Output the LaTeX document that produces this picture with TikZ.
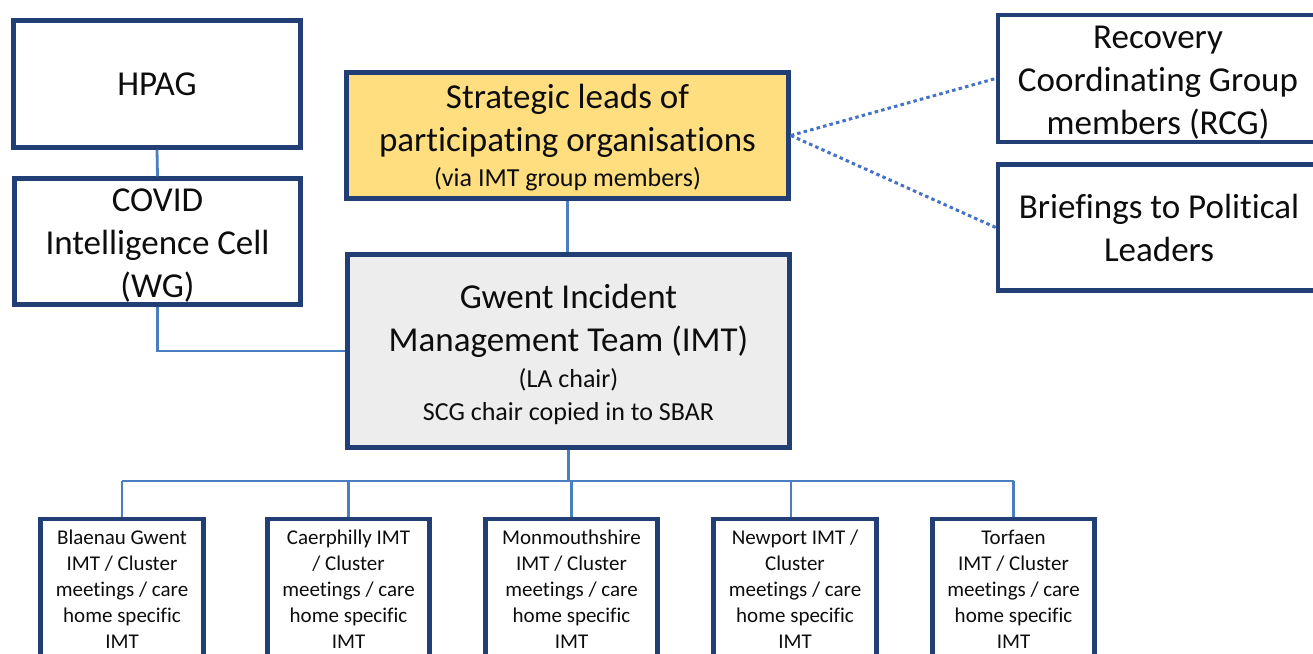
\documentclass[tikz,border=0pt]{standalone}
\usepackage{fontspec}
\setmainfont{Carlito}[RawFeature={-liga;-clig;-dlig}]
\definecolor{boxblue}{RGB}{33,63,116}
\definecolor{linkblue}{RGB}{74,126,193}
\definecolor{dotblue}{RGB}{68,114,196}
\definecolor{goldfill}{RGB}{255,222,128}
\definecolor{greyfill}{RGB}{237,237,237}
\definecolor{ink}{RGB}{13,13,13}
\begin{document}
\begin{tikzpicture}[x=1pt,y=-1pt,
  box/.style={draw=boxblue, line width=4.5pt, rectangle, inner sep=0pt, fill=white},
  big/.style={font=\fontsize{35}{43}\selectfont, text=ink, align=center},
  mid/.style={font=\fontsize{26}{32}\selectfont, text=ink, align=center},
  lbl/.style={font=\fontsize{21}{26}\selectfont, text=ink, align=center, inner sep=0pt},
  link/.style={draw=linkblue, line width=2.8pt},
  dotlink/.style={draw=dotblue, line width=3pt, dash pattern=on 3.5pt off 3.2pt}
]
\useasboundingbox (0,0) rectangle (1313,653);
\clip (0,0) rectangle (1313,653);

% top-left boxes
\node[box, minimum width=287pt, minimum height=127pt, big] (hpag) at (157,84) {HPAG};
\node[box, minimum width=286pt, minimum height=126pt] (covid) at (157.5,241.5) {};
\node[big] (covidtxt) at (157.5,245.5) {COVID\\Intelligence Cell\\(WG)};

% central boxes
\node[box, fill=goldfill, minimum width=442pt, minimum height=126pt] (strat) at (567.5,135.5) {};
\node[big, anchor=base] (strat1) at (567.5,108.5) {Strategic leads of};
\node[big, anchor=base] (strat2) at (567.5,151.5) {participating organisations};
\node[mid, anchor=base] (strat3) at (567.5,186) {(via IMT group members)};

\node[box, fill=greyfill, minimum width=442pt, minimum height=193pt] (imt) at (568.5,351) {};
\node[big, anchor=base] (imt1) at (568.5,308) {Gwent Incident};
\node[big, anchor=base] (imt2) at (568.5,351.5) {Management Team (IMT)};
\node[mid, anchor=base] (imt3) at (568.5,387) {(LA chair)};
\node[mid, anchor=base] (imt4) at (568.5,420) {SCG chair copied in to SBAR};

% right boxes
\node[box, minimum width=322pt, minimum height=127pt] (rcg) at (1159,78.5) {};
\node[big] (rcgtxt) at (1158,82.5) {Recovery\\Coordinating Group\\members (RCG)};
\node[box, minimum width=322pt, minimum height=126pt, big] (brief) at (1159,227.5) {Briefings to Political\\Leaders};

% bottom boxes
\node[box, minimum width=163pt, minimum height=181pt] (b1) at (122,609.5) {};
\node[box, minimum width=162pt, minimum height=181pt] (b2) at (348.5,609.5) {};
\node[box, minimum width=172pt, minimum height=181pt] (b3) at (571.5,609.5) {};
\node[box, minimum width=163pt, minimum height=181pt] (b4) at (795,609.5) {};
\node[box, minimum width=162pt, minimum height=181pt] (b5) at (1013.5,609.5) {};

\node[lbl] (t1) at (122,589) {Blaenau Gwent\\IMT / Cluster\\meetings / care\\home specific\\IMT};
\node[lbl] (t2) at (348.5,589) {Caerphilly IMT\\/ Cluster\\meetings / care\\home specific\\IMT};
\node[lbl] (t3) at (571.5,589) {Monmouthshire\\IMT / Cluster\\meetings / care\\home specific\\IMT};
\node[lbl] (t4) at (795,589) {Newport IMT /\\Cluster\\meetings / care\\home specific\\IMT};
\node[lbl] (t5) at (1013.5,589) {Torfaen\\IMT / Cluster\\meetings / care\\home specific\\IMT};

% connectors
\draw[link] (hpag.south) -- (covid.north);
\draw[link] (covid.south) |- (imt.west);
\draw[link] (strat.south) -- (strat.south |- imt.north);
\coordinate (bus) at (570,481);
\draw[link] (imt.south) -- (imt.south |- bus);
\draw[link] (b1.north |- bus) -- (b5.north |- bus);
\draw[link] (b1.north) -- (b1.north |- bus);
\draw[link] (b2.north) -- (b2.north |- bus);
\draw[link] (b3.north) -- (b3.north |- bus);
\draw[link] ([xshift=-4pt]b4.north) -- ([xshift=-4pt]b4.north |- bus);
\draw[link] (b5.north) -- (b5.north |- bus);

\draw[dotlink] (strat.east) -- (rcg.west);
\draw[dotlink] (strat.east) -- (brief.west);
\end{tikzpicture}
\end{document}
